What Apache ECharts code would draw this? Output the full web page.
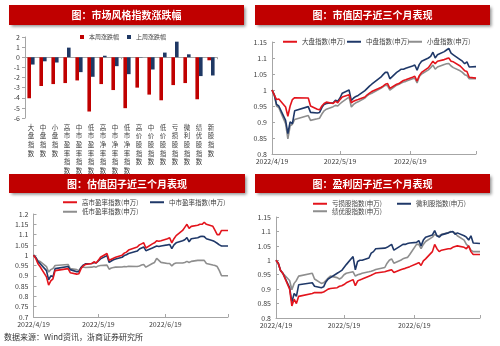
<!DOCTYPE html>
<html>
<head>
<meta charset="utf-8">
<script src="https://cdn.jsdelivr.net/npm/echarts@6/dist/echarts.min.js"></script>
<style>
html,body{margin:0;padding:0;background:#ffffff;}
#c{width:500px;height:346px;}
</style>
</head>
<body>
<div id="c"></div>
<script>
// ---- style index weekly change (%) ----
const styleCats = ['大盘指数','中盘指数','小盘指数','高市盈率指数','中市盈率指数','低市盈率指数','高市净率指数','中市净率指数','低市净率指数','高价股指数','中价股指数','低价股指数','亏损股指数','微利股指数','绩优股指数','新股指数'];
const thisWeek = [-4.05,-2.84,-2.65,-2.55,-2.29,-5.36,-2.65,-3.24,-5.03,-3.00,-3.69,-4.25,-2.75,-2.55,-4.15,-0.30];
const lastWeek = [-0.72,-0.40,-0.52,0.95,-1.47,-1.93,0.15,-0.88,-1.67,-0.03,-1.21,0.46,1.54,0.29,-1.86,-1.80];

// ---- trading days ----
const dates = [
 '2022-04-19','2022-04-20','2022-04-21','2022-04-22','2022-04-25','2022-04-26','2022-04-27','2022-04-28','2022-04-29',
 '2022-05-05','2022-05-06','2022-05-09','2022-05-10','2022-05-11','2022-05-12','2022-05-13','2022-05-16','2022-05-17','2022-05-18','2022-05-19','2022-05-20','2022-05-23','2022-05-24','2022-05-25','2022-05-26','2022-05-27','2022-05-30','2022-05-31',
 '2022-06-01','2022-06-02','2022-06-06','2022-06-07','2022-06-08','2022-06-09','2022-06-10','2022-06-13','2022-06-14','2022-06-15','2022-06-16','2022-06-17','2022-06-20','2022-06-21','2022-06-22','2022-06-23','2022-06-24','2022-06-27','2022-06-28','2022-06-29','2022-06-30',
 '2022-07-01','2022-07-04','2022-07-05','2022-07-06','2022-07-07','2022-07-08','2022-07-11','2022-07-12','2022-07-13','2022-07-14','2022-07-15','2022-07-18'
];
const dateTicks = ['2022-04-19','2022-05-19','2022-06-19'];

// ---- size factor ----
const bigCap = [
 1.000,0.985,0.970,0.972,0.947,0.918,0.950,0.970,0.976,
 0.975,0.950,0.940,0.938,0.950,0.958,0.962,0.958,0.965,0.960,0.970,0.978,0.985,0.960,0.965,0.968,0.970,0.978,0.985,
 0.990,0.995,1.008,1.012,1.018,1.020,1.005,1.018,1.020,1.025,1.030,1.032,1.040,1.043,1.028,1.045,1.055,1.070,1.080,1.090,1.082,
 1.090,1.095,1.098,1.100,1.090,1.088,1.075,1.068,1.060,1.058,1.040,1.037
];
const midCap = [
 1.000,0.985,0.955,0.950,0.905,0.864,0.900,0.895,0.935,
 0.948,0.930,0.928,0.930,0.945,0.955,0.958,0.960,0.968,0.965,0.975,0.990,1.000,0.967,0.975,0.980,0.983,0.998,1.005,
 1.012,1.018,1.040,1.048,1.055,1.055,1.035,1.055,1.060,1.065,1.065,1.068,1.075,1.078,1.062,1.080,1.090,1.100,1.105,1.118,1.100,
 1.110,1.120,1.125,1.130,1.115,1.110,1.095,1.090,1.082,1.088,1.072,1.073
];
const smallCap = [
 1.000,0.985,0.950,0.945,0.895,0.847,0.888,0.893,0.908,
 0.920,0.905,0.910,0.912,0.925,0.935,0.940,0.948,0.952,0.950,0.957,0.963,0.978,0.947,0.955,0.960,0.963,0.975,0.982,
 0.987,0.990,1.005,1.010,1.015,1.013,1.000,1.015,1.018,1.022,1.025,1.027,1.035,1.037,1.022,1.042,1.050,1.063,1.070,1.078,1.065,
 1.072,1.080,1.082,1.083,1.075,1.070,1.060,1.055,1.048,1.045,1.035,1.035
];

// ---- valuation factor ----
const highPE = [
 1.000,0.985,0.960,0.945,0.895,0.855,0.875,0.885,0.925,
 0.935,0.915,0.908,0.910,0.935,0.948,0.955,0.960,0.968,0.962,0.975,0.990,1.008,0.975,0.980,0.985,0.990,1.000,1.010,
 1.015,1.025,1.040,1.050,1.055,1.060,1.035,1.055,1.060,1.070,1.068,1.070,1.080,1.085,1.060,1.080,1.095,1.120,1.135,1.150,1.130,
 1.140,1.145,1.150,1.150,1.160,1.150,1.140,1.120,1.100,1.100,1.120,1.120
];
const midPE = [
 1.000,0.990,0.970,0.960,0.925,0.880,0.900,0.895,0.935,
 0.945,0.930,0.920,0.920,0.940,0.952,0.958,0.960,0.965,0.962,0.972,0.982,0.998,0.965,0.972,0.978,0.982,0.990,0.998,
 1.002,1.008,1.020,1.030,1.035,1.040,1.022,1.035,1.040,1.045,1.042,1.045,1.050,1.052,1.032,1.050,1.060,1.070,1.075,1.085,1.065,
 1.080,1.085,1.090,1.092,1.090,1.080,1.070,1.065,1.058,1.050,1.045,1.045
];
const lowPE = [
 1.000,0.990,0.975,0.970,0.945,0.918,0.930,0.935,0.950,
 0.955,0.935,0.930,0.925,0.940,0.943,0.940,0.942,0.945,0.942,0.948,0.950,0.952,0.932,0.938,0.940,0.942,0.943,0.945,
 0.944,0.946,0.945,0.948,0.952,0.955,0.942,0.960,0.965,0.985,0.975,0.965,0.960,0.960,0.948,0.958,0.962,0.962,0.965,0.970,0.965,
 0.970,0.975,0.975,0.975,0.975,0.960,0.952,0.950,0.945,0.925,0.900,0.900
];

// ---- profitability factor ----
const lossStock = [
 1.000,0.990,0.965,0.955,0.900,0.842,0.865,0.850,0.875,
 0.885,0.888,0.888,0.890,0.895,0.900,0.902,0.905,0.910,0.912,0.916,0.922,0.933,0.912,0.928,0.932,0.935,0.945,0.948,
 0.952,0.956,0.960,0.963,0.965,0.967,0.958,0.967,0.970,0.972,0.975,0.978,0.988,0.992,0.982,0.998,1.005,1.030,1.055,1.040,1.030,
 1.035,1.040,1.040,1.045,1.048,1.050,1.045,1.040,1.050,1.030,1.020,1.020
];
const lowProfit = [
 1.000,0.990,0.965,0.955,0.905,0.855,0.885,0.875,0.915,
 0.922,0.910,0.905,0.908,0.925,0.935,0.940,0.955,0.960,0.965,0.975,0.985,1.013,0.967,0.996,1.000,1.000,1.008,1.025,
 1.030,1.040,1.042,1.045,1.050,1.055,1.035,1.050,1.055,1.055,1.058,1.060,1.062,1.068,1.050,1.070,1.080,1.088,1.103,1.085,1.080,
 1.088,1.095,1.098,1.100,1.090,1.095,1.085,1.080,1.070,1.085,1.060,1.058
];
const topProfit = [
 1.000,0.990,0.965,0.955,0.930,0.898,0.920,0.930,0.945,
 0.955,0.935,0.920,0.922,0.930,0.938,0.945,0.940,0.935,0.940,0.950,0.955,0.960,0.945,0.950,0.952,0.955,0.960,0.962,
 0.965,0.968,0.975,0.990,1.000,1.005,0.990,1.000,1.005,1.008,1.010,1.020,1.055,1.055,1.040,1.055,1.065,1.080,1.090,1.085,1.085,
 1.090,1.095,1.100,1.098,1.095,1.085,1.070,1.055,1.048,1.035,1.030,1.030
];

const FONT = '"Noto Sans CJK SC", "Noto Sans", sans-serif';
const RED = '#e3141c', NAVY = '#1f3868', GREY = '#8e8e8e';
const AXIS = '#a6a6a6', TXT = '#404040';

function ts(s) { const p = s.split('-'); return new Date(+p[0], +p[1] - 1, +p[2]).getTime(); }
function pairs(vals) { return dates.map((d, i) => [ts(d), vals[i]]); }
function fmtDate(v) { const d = new Date(v); return d.getFullYear() + '/' + (d.getMonth() + 1) + '/' + d.getDate(); }

// date axis: a numeric axis holding timestamps, labelled on the 19th of each month
function dateAxis(gi) {
  const ticks = dateTicks.map(ts);
  return {
    type: 'value', gridIndex: gi, scale: true,
    min: ts(dates[0]), max: ts(dates[dates.length - 1]),
    axisLine: { show: true, onZero: false, lineStyle: { color: AXIS, width: 1 } },
    axisTick: { show: true, inside: true, length: 3, customValues: ticks.concat([ts(dates[dates.length - 1])]), lineStyle: { color: AXIS } },
    axisLabel: { customValues: ticks, formatter: fmtDate, fontSize: 7, color: TXT, margin: 4, fontFamily: FONT, hideOverlap: false },
    splitLine: { show: false }
  };
}
function valAxis(gi, min, max, interval) {
  return {
    type: 'value', gridIndex: gi, min: min, max: max, interval: interval,
    axisLine: { show: true, onZero: false, lineStyle: { color: AXIS, width: 1 } },
    axisTick: { show: true, inside: true, length: 3, lineStyle: { color: AXIS } },
    axisLabel: { fontSize: 7, color: TXT, margin: 5, fontFamily: FONT },
    splitLine: { show: false }
  };
}
function lineSeries(name, vals, color, xi, yi) {
  return {
    name: name, type: 'line', xAxisIndex: xi, yAxisIndex: yi,
    data: pairs(vals), showSymbol: false, symbol: 'none', smooth: false,
    lineStyle: { color: color, width: 1.6 }, itemStyle: { color: color },
    emphasis: { disabled: true }
  };
}
function legendItem(name, left, top) {
  return {
    data: [name], left: left, top: top, icon: 'rect', itemWidth: 14, itemHeight: 2, itemGap: 0, padding: 0,
    textStyle: { fontSize: 6.5, color: TXT, fontFamily: FONT }, selectedMode: false
  };
}
function banner(x, y, w, h, text) {
  return {
    type: 'group', children: [
      { type: 'rect', shape: { x: x, y: y, width: w, height: h },
        style: { fill: '#c00000', shadowBlur: 3, shadowOffsetX: 1.5, shadowOffsetY: 1.5, shadowColor: 'rgba(0,0,0,0.45)' } },
      { type: 'text', x: x + w / 2, y: y + h / 2 + 0.5,
        style: { text: text, fill: '#ffffff', font: 'bold 10px ' + FONT, align: 'center', verticalAlign: 'middle' } }
    ]
  };
}

const chart = echarts.init(document.getElementById('c'), null, { renderer: 'canvas' });
chart.setOption({
  backgroundColor: '#ffffff',
  animation: false,
  textStyle: { fontFamily: FONT },
  graphic: [
    banner(9, 5, 235, 20, '图：市场风格指数涨跌幅'),
    banner(255, 5, 235, 20, '图：市值因子近三个月表现'),
    banner(9, 174, 236, 19, '图：估值因子近三个月表现'),
    banner(255, 174, 235, 19, '图：盈利因子近三个月表现'),
    { type: 'text', left: 4, top: 333, style: { text: '数据来源：Wind资讯，浙商证券研究所', fill: '#333333', font: '8px ' + FONT } }
  ],
  grid: [
    { left: 25, top: 37, width: 192, height: 81 },
    { left: 272, top: 42, width: 204, height: 112 },
    { left: 33.5, top: 214, width: 194.5, height: 103 },
    { left: 276, top: 217, width: 204, height: 101 }
  ],
  legend: [
    { data: ['本周涨跌幅', '上周涨跌幅'], left: 80, top: 34, icon: 'rect', itemWidth: 4, itemHeight: 4, itemGap: 8, itemTextGap: 3, padding: 0,
      textStyle: { fontSize: 6, color: TXT, fontFamily: FONT }, selectedMode: false },
    legendItem('大盘指数(申万)', 283, 38.5),
    legendItem('中盘指数(申万)', 347, 38.5),
    legendItem('小盘指数(申万)', 408, 38.5),
    legendItem('高市盈率指数(申万)', 63, 199),
    legendItem('中市盈率指数(申万)', 150, 199),
    legendItem('低市盈率指数(申万)', 63, 208.5),
    legendItem('亏损股指数(申万)', 313, 200.5),
    legendItem('微利股指数(申万)', 397, 200.5),
    legendItem('绩优股指数(申万)', 313, 208)
  ],
  xAxis: [
    { type: 'category', gridIndex: 0, data: styleCats, position: 'bottom',
      axisLine: { show: false, onZero: false }, axisTick: { show: false },
      axisLabel: { interval: 0, fontSize: 6.5, lineHeight: 8.6, color: TXT, margin: 5, fontFamily: FONT, verticalAlign: 'top',
        formatter: v => v.split('').join('\n') } },
    { type: 'category', gridIndex: 0, data: styleCats, position: 'bottom',
      axisLine: { show: true, onZero: true, lineStyle: { color: AXIS, width: 1 } },
      axisTick: { show: true, length: 2, lineStyle: { color: AXIS } },
      axisLabel: { show: false } },
    dateAxis(1), dateAxis(2), dateAxis(3)
  ],
  yAxis: [
    Object.assign(valAxis(0, -6, 2, 1), { axisTick: { show: true, inside: false, length: 3, lineStyle: { color: AXIS } } }),
    valAxis(1, 0.8, 1.15, 0.05),
    valAxis(2, 0.7, 1.2, 0.05),
    valAxis(3, 0.8, 1.15, 0.05)
  ],
  series: [
    { name: '本周涨跌幅', type: 'bar', xAxisIndex: 0, yAxisIndex: 0, data: thisWeek, barWidth: 3.6, barGap: '0%',
      itemStyle: { color: '#c00000' }, emphasis: { disabled: true } },
    { name: '上周涨跌幅', type: 'bar', xAxisIndex: 0, yAxisIndex: 0, data: lastWeek, barWidth: 3.6, barGap: '0%',
      itemStyle: { color: '#1f3864' }, emphasis: { disabled: true } },
    lineSeries('小盘指数(申万)', smallCap, GREY, 2, 1),
    lineSeries('中盘指数(申万)', midCap, NAVY, 2, 1),
    lineSeries('大盘指数(申万)', bigCap, RED, 2, 1),
    lineSeries('低市盈率指数(申万)', lowPE, GREY, 3, 2),
    lineSeries('中市盈率指数(申万)', midPE, NAVY, 3, 2),
    lineSeries('高市盈率指数(申万)', highPE, RED, 3, 2),
    lineSeries('绩优股指数(申万)', topProfit, GREY, 4, 3),
    lineSeries('微利股指数(申万)', lowProfit, NAVY, 4, 3),
    lineSeries('亏损股指数(申万)', lossStock, RED, 4, 3)
  ]
});
</script>
</body>
</html>
